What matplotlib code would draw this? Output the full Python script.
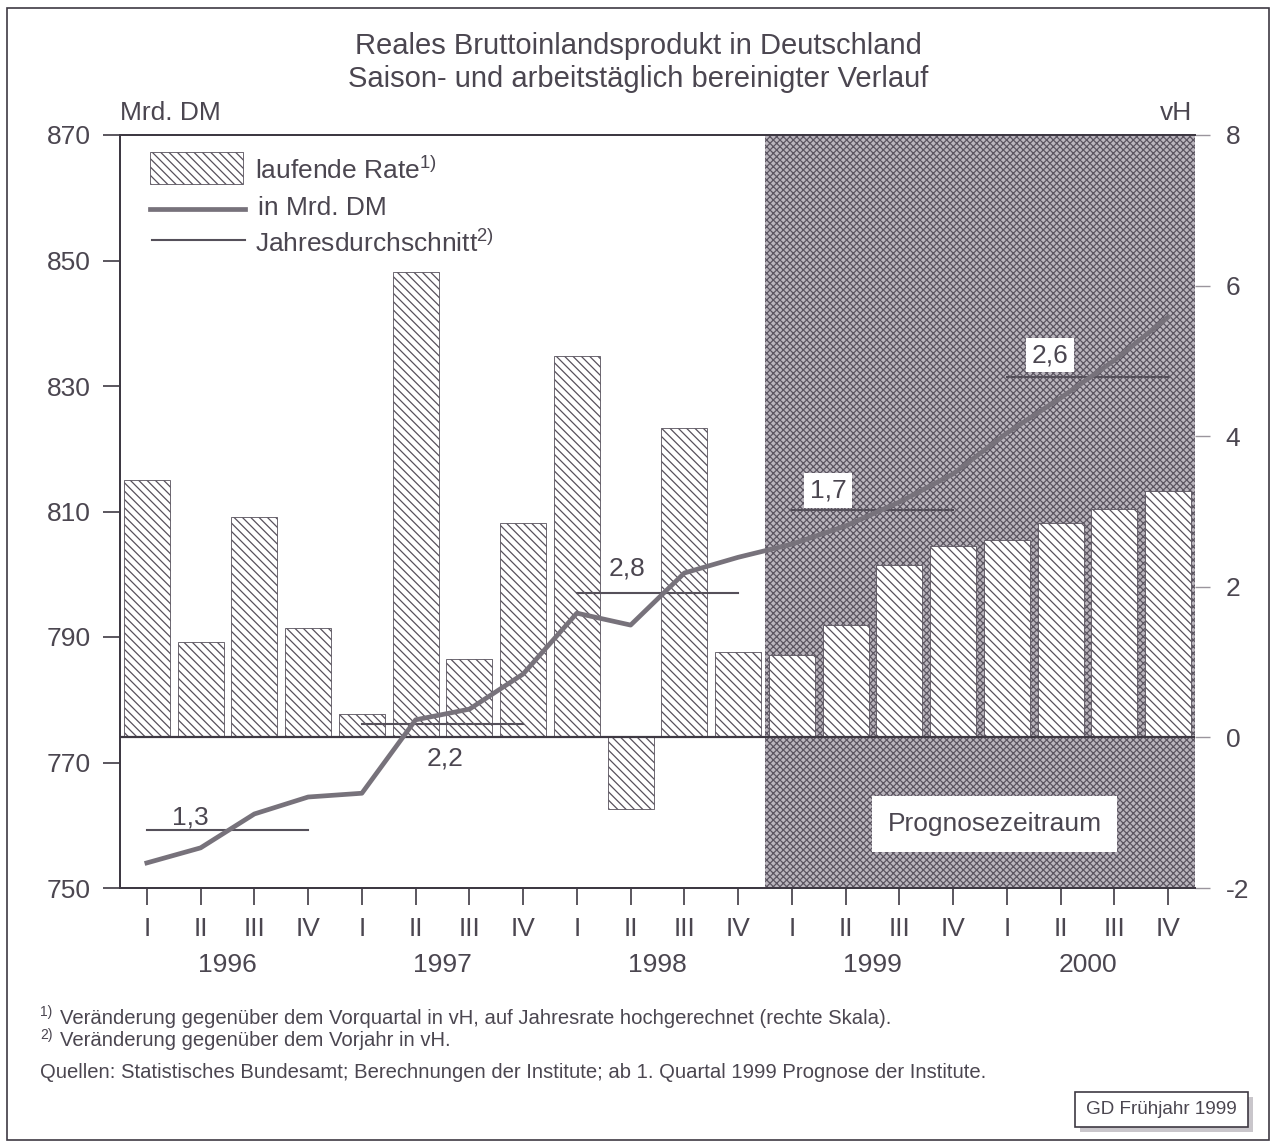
import matplotlib.pyplot as plt
from matplotlib.patches import Rectangle

plt.rcParams['font.family'] = ['Liberation Sans', 'DejaVu Sans']
plt.rcParams['mathtext.fontset'] = 'custom'
plt.rcParams['mathtext.rm'] = 'Liberation Sans'
plt.rcParams['hatch.linewidth'] = 0.9
plt.rcParams['axes.unicode_minus'] = False

TXT = '#4b4650'

# data
quarters = ['I', 'II', 'III', 'IV'] * 5
years = ['1996', '1997', '1998', '1999', '2000']
rate = [3.42, 1.27, 2.93, 1.45, 0.31, 6.18, 1.04, 2.85, 5.07, -0.95,
        4.11, 1.14, 1.10, 1.49, 2.29, 2.54, 2.62, 2.85, 3.03, 3.27]
level = [754.0, 756.4, 761.8, 764.5, 765.1, 776.8, 778.5, 784.1, 793.8, 791.9,
         800.2, 802.7, 804.8, 807.7, 811.5, 816.0, 822.5, 828.1, 834.1, 841.0]
year_avg = [759.2, 776.1, 797.0, 810.2, 831.4]
year_growth = ['1,3', '2,2', '2,8', '1,7', '2,6']
forecast_start = 12

fig = plt.figure(figsize=(12.76, 11.41), dpi=100)
fig.patch.set_facecolor('white')

ax = fig.add_axes([120/1276, 1-888/1141, 1075/1276, 753/1141])   # bars, vH
ax2 = ax.twinx()                                                 # line, Mrd. DM
x = list(range(len(rate)))

# forecast shading
ax.axvspan(forecast_start - 0.5, len(rate) - 0.5, facecolor='#bbb6be',
           edgecolor='#5c5662', hatch='xxxxx', linewidth=0, zorder=0)

ax.bar(x, rate, width=0.86, color='white', edgecolor='#57515c',
       hatch='\\\\\\\\', linewidth=0.6, zorder=2)
ax.axhline(0, color='#3e3943', linewidth=1.6, zorder=3)

ax.set_xlim(-0.5, len(rate) - 0.5)
ax.set_ylim(-2, 8)
ax.yaxis.tick_right()
ax.set_yticks([-2, 0, 2, 4, 6, 8])
ax.tick_params(axis='y', colors='#9a959d', labelcolor=TXT, labelsize=19,
               length=11, width=1, pad=11)
ax.set_xticks(x)
ax.set_xticklabels(quarters)
ax.tick_params(axis='x', colors='#3e3943', labelcolor=TXT, labelsize=19,
               length=12, width=1.2, pad=9)

ax2.plot(x, level, color='#77727b', linewidth=3.4, solid_joinstyle='round', zorder=5)
for i, avg in enumerate(year_avg):
    ax2.plot([4*i, 4*i + 3], [avg, avg], color='#55505a', linewidth=1.5, zorder=4)

ax2.set_ylim(750, 870)
ax2.yaxis.tick_left()
ax2.set_yticks(range(750, 871, 20))
ax2.tick_params(axis='y', colors='#3e3943', labelcolor=TXT, labelsize=19,
                length=12, width=1.2, pad=9)

# growth labels: x position and vertical gap to the average line (px)
lab_x = [0.8, 5.54, 8.93, 12.67, 16.8]
lab_gap = [6, -22, 18, 13, 15]
for lx, gap, avg, lab in zip(lab_x, lab_gap, year_avg, year_growth):
    va = 'baseline' if gap > 0 else 'top'
    box = None
    if lx > forecast_start - 0.5:
        box = dict(boxstyle='square,pad=0.2', fc='white', ec='none')
    ax2.annotate(lab, (lx, avg), xytext=(0, gap * 0.72), textcoords='offset points',
                 ha='center', va=va, fontsize=19, color=TXT, zorder=6, bbox=box)

ax2.text(15.77, 760.2, 'Prognosezeitraum', ha='center', va='center', fontsize=19,
         color=TXT, zorder=6,
         bbox=dict(boxstyle='square,pad=0.6', fc='white', ec='none'))

for a in (ax, ax2):
    a.spines['right'].set_visible(False)
    for s in ('left', 'top', 'bottom'):
        a.spines[s].set_color('#3e3943')
        a.spines[s].set_linewidth(1.4)
ax2.patch.set_visible(False)

# year labels
for i, yr in enumerate(years):
    ax.annotate(yr, (4*i + 1.5, 0), xycoords=('data', 'axes fraction'),
                xytext=(0, -47), textcoords='offset points', ha='center', va='top',
                fontsize=19, color=TXT)

# legend drawn by hand
fig.add_artist(Rectangle((150/1276, 1-184/1141), 93/1276, 32/1141, transform=fig.transFigure,
                         facecolor='white', edgecolor='#57515c', hatch='\\\\\\\\', linewidth=0.6))
fig.text(255/1276, 1-170/1141, r'laufende Rate$^{\mathrm{1)}}$', fontsize=19, color=TXT, va='center')
fig.add_artist(plt.Line2D([150/1276, 245/1276], [1-209/1141]*2, color='#77727b', linewidth=3.4))
fig.text(258/1276, 1-208/1141, 'in Mrd. DM', fontsize=19, color=TXT, va='center')
fig.add_artist(plt.Line2D([152/1276, 245/1276], [1-240/1141]*2, color='#55505a', linewidth=1.5))
fig.text(255/1276, 1-243/1141, r'Jahresdurchschnitt$^{\mathrm{2)}}$', fontsize=19, color=TXT, va='center')

# titles and axis units
fig.text(638/1276, 1-46/1141, 'Reales Bruttoinlandsprodukt in Deutschland', ha='center',
         va='center', fontsize=21, color=TXT)
fig.text(638/1276, 1-79/1141, 'Saison- und arbeitstäglich bereinigter Verlauf', ha='center',
         va='center', fontsize=21, color=TXT)
fig.text(120/1276, 1-113/1141, 'Mrd. DM', ha='left', va='center', fontsize=19, color=TXT)
fig.text(1192/1276, 1-113/1141, 'vH', ha='right', va='center', fontsize=19, color=TXT)

# footnotes
fig.text(40/1276, 1-1012/1141, '1)', fontsize=10, color=TXT, va='center')
fig.text(60/1276, 1-1018/1141, 'Veränderung gegenüber dem Vorquartal in vH, auf Jahresrate hochgerechnet (rechte Skala).',
         fontsize=14.6, color=TXT, va='center')
fig.text(40/1276, 1-1035/1141, '2)', fontsize=10, color=TXT, va='center')
fig.text(60/1276, 1-1041/1141, 'Veränderung gegenüber dem Vorjahr in vH.',
         fontsize=14.6, color=TXT, va='center')
fig.text(40/1276, 1-1073/1141, 'Quellen: Statistisches Bundesamt; Berechnungen der Institute; ab 1. Quartal 1999 Prognose der Institute.',
         fontsize=14.6, color=TXT, va='center')

# source box with shadow
fig.add_artist(Rectangle((1080/1276, 1-1132/1141), 173/1276, 35/1141, transform=fig.transFigure,
                         facecolor='#c9c6cb', edgecolor='none'))
fig.add_artist(Rectangle((1075/1276, 1-1127/1141), 173/1276, 35/1141, transform=fig.transFigure,
                         facecolor='white', edgecolor='#3e3943', linewidth=1.2))
fig.text(1161/1276, 1-1109/1141, 'GD Frühjahr 1999', ha='center', va='center', fontsize=13.6, color=TXT)

# outer frame
fig.add_artist(Rectangle((7/1276, 1-1140/1141), 1262/1276, 1132/1141, transform=fig.transFigure,
                         facecolor='none', edgecolor='#3e3943', linewidth=1.2))

fig.savefig('out.png', dpi=100)
